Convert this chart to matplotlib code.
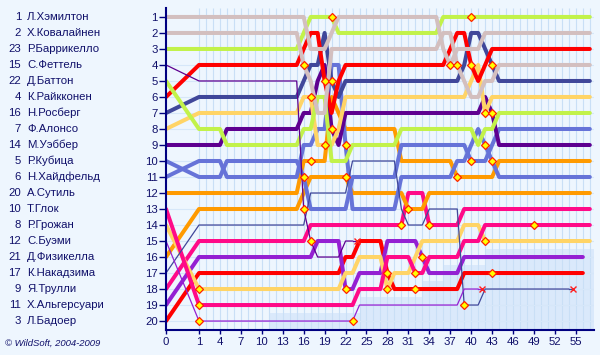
import numpy as np
import matplotlib
matplotlib.use("Agg")
import matplotlib.pyplot as plt
from matplotlib import transforms

plt.rcParams['font.family'] = ['Liberation Sans', 'DejaVu Sans']

nan = np.nan

# ---- data -------------------------------------------------------------
car_numbers = [1, 2, 23, 15, 22, 4, 16, 7, 14, 5, 6, 20, 10, 8, 12, 21, 17, 9, 11, 3]
driver_codes = ["HAM", "KOV", "BAR", "VET", "BUT", "RAI", "ROS", "ALO", "WEB", "KUB",
                "HEI", "SUT", "GLO", "GRO", "BUE", "FIS", "NAK", "TRU", "ALG", "BAD"]
driver_names = ["Л.Хэмилтон", "Х.Ковалайнен", "Р.Баррикелло", "С.Феттель", "Д.Баттон",
                "К.Райкконен", "Н.Росберг", "Ф.Алонсо", "М.Уэббер", "Р.Кубица",
                "Н.Хайдфельд", "А.Сутиль", "Т.Глок", "Р.Грожан", "С.Буэми",
                "Д.Физикелла", "К.Накадзима", "Я.Трулли", "Х.Альгерсуари", "Л.Бадоер"]

laps = list(range(0, 58))

# positions at the end of laps 0..57 (0 = grid)
pos_HAM = [1,1,1,1,1,1,1,1,1,1, 1,1,1,1,1,1,1,3,3,3, 2,1,1,1,1,1,1,1,1,1,
           1,1,1,1,1,1,3,4,3,3, 3,3,2,2,2,2,2,2,2,2, 2,2,2,2,2,2,2,2]
pos_KOV = [2,2,2,2,2,2,2,2,2,2, 2,2,2,2,2,2,4,5,7,7, 3,3,3,3,3,3,3,3,3,3,
           3,3,3,3,3,3,2,2,4,5, 6,6,5,5,4,4,4,4,4,4, 4,4,4,4,4,4,4,4]
pos_BAR = [3,3,3,3,3,3,3,3,3,3, 3,3,3,3,3,3,2,1,1,1, 1,2,2,2,2,2,2,2,2,2,
           2,2,2,2,2,2,1,1,1,1, 1,1,1,1,1,1,1,1,1,1, 1,1,1,1,1,1,1,1]
pos_VET = [4,5,5,5,5,5,5,5,5,5, 5,5,5,5,5,5,13,15,16,16, 16,16,15,15,nan,nan,nan,nan,nan,nan,
           nan,nan,nan,nan,nan,nan,nan,nan,nan,nan, nan,nan,nan,nan,nan,nan,nan,nan,nan,nan,
           nan,nan,nan,nan,nan,nan,nan,nan]
pos_BUT = [5,8,8,8,8,9,9,9,9,9, 9,9,9,9,9,9,8,8,6,6, 10,10,10,9,9,9,9,9,9,9,
           8,8,8,8,8,8,8,8,8,8, 8,9,8,8,7,7,7,7,7,7, 7,7,7,7,7,7,7,7]
pos_RAI = [6,4,4,4,4,4,4,4,4,4, 4,4,4,4,4,4,3,2,2,5, 7,5,4,4,4,4,4,4,4,4,
           4,4,4,4,4,4,4,3,2,2, 4,5,4,3,3,3,3,3,3,3, 3,3,3,3,3,3,3,3]
pos_ROS = [7,6,6,6,6,6,6,6,6,6, 6,6,6,6,6,6,5,4,4,2, 5,6,5,5,5,5,5,5,5,5,
           5,5,5,5,5,5,5,5,5,4, 2,2,3,4,5,5,5,5,5,5, 5,5,5,5,5,5,5,5]
pos_ALO = [8,7,7,7,7,7,7,7,7,7, 7,7,7,7,7,7,6,6,9,9, 9,8,6,6,6,6,6,6,6,6,
           6,6,6,6,6,6,6,6,6,6, 5,4,7,6,6,6,6,6,6,6, 6,6,6,6,6,6,6,6]
pos_WEB = [9,9,9,9,9,8,8,8,8,8, 8,8,8,8,8,8,7,7,5,4, 8,9,7,7,7,7,7,7,7,7,
           7,7,7,7,7,7,7,7,7,7, 7,7,6,7,9,9,9,9,9,9, 9,9,9,9,9,9,9,9]
pos_KUB = [10,11,11,11,11,10,10,10,10,10, 10,10,10,10,10,10,11,13,13,13, 13,13,13,11,11,11,11,11,11,11,
           9,9,9,9,9,9,9,9,9,9, 10,10,10,9,8,8,8,8,8,8, 8,8,8,8,8,8,8,8]
pos_HEI = [11,10,10,10,10,11,11,11,11,11, 11,11,11,11,11,11,9,9,8,8, 4,4,9,13,13,13,13,13,13,13,
           11,11,11,11,11,11,11,11,10,10, 9,8,9,10,11,11,11,11,11,11, 11,11,11,11,11,11,11,11]
pos_SUT = [12,12,12,12,12,12,12,12,12,12, 12,12,12,12,12,12,10,10,10,10, 6,7,8,8,8,8,8,8,8,8,
           10,10,10,10,10,10,10,10,11,11, 11,11,11,11,10,10,10,10,10,10, 10,10,10,10,10,10,10,10]
pos_GLO = [13,19,19,19,19,19,19,19,19,19, 19,19,19,19,19,19,19,19,19,19, 19,19,19,19,18,18,18,18,16,16,
           16,16,17,17,16,16,16,16,16,15, 15,15,14,14,14,14,14,14,14,14, 14,14,14,14,14,14,14,14]
pos_GRO = [14,18,18,18,18,18,18,18,18,18, 18,18,18,18,18,18,18,18,18,18, 18,18,17,17,16,16,16,16,18,17,
           17,17,16,15,15,15,15,15,15,14, 14,14,15,15,15,15,15,15,15,15, 15,15,15,15,15,15,15,15]
pos_BUE = [15,20,20,20,20,20,20,20,20,20, 20,20,20,20,20,20,20,20,20,20, 20,20,20,20,19,19,19,19,19,19,
           19,19,19,19,19,19,19,19,19,18, 18,18,nan,nan,nan,nan,nan,nan,nan,nan,
           nan,nan,nan,nan,nan,nan,nan,nan]
pos_FIS = [16,13,13,13,13,13,13,13,13,13, 13,13,13,13,13,13,12,11,11,11, 11,11,11,12,12,12,12,12,12,12,
           12,13,13,13,12,12,12,12,12,12, 12,12,12,12,12,12,12,12,12,12, 12,12,12,12,12,12,12,12]
pos_NAK = [17,14,14,14,14,14,14,14,14,14, 14,14,14,14,14,14,14,12,12,12, 12,12,12,10,10,10,10,10,10,10,
           13,14,14,14,13,13,13,13,13,19, 19,19,18,18,18,18,18,18,18,18, 18,18,18,18,18,nan,nan,nan]
pos_TRU = [18,15,15,15,15,15,15,15,15,15, 15,15,15,15,15,15,15,14,14,14, 14,14,14,14,14,14,14,14,14,14,
           14,12,12,12,14,14,14,14,14,13, 13,13,13,13,13,13,13,13,13,13, 13,13,13,13,13,13,13,13]
pos_ALG = [19,16,16,16,16,16,16,16,16,16, 16,16,16,16,16,16,16,16,15,15, 15,15,18,18,17,17,17,17,15,15,
           15,15,15,16,17,17,17,17,17,16, 16,16,16,16,16,16,16,16,16,16, 16,16,16,16,16,16,16,nan]
pos_BAD = [20,17,17,17,17,17,17,17,17,17, 17,17,17,17,17,17,17,17,17,17, 17,17,16,16,15,15,15,15,17,18,
           18,18,18,18,18,18,18,18,18,17, 17,17,17,17,17,17,17,17,17,17, 17,17,17,17,17,17,17,nan]

# pit stops (lap, position)
pit_lap = [1, 1, 1, 16, 16, 16, 17, 17, 17, 19, 19, 20, 20, 20, 22, 22, 22, 23,
           28, 28, 30, 31, 32, 32, 33, 34, 37, 38, 38, 39, 40, 40, 40,
           42, 42, 42, 43, 43, 43, 43, 49]
pit_pos = [18, 19, 20, 4, 11, 13, 6, 10, 15, 5, 9, 1, 5, 8, 9, 11, 18, 20,
           17, 18, 14, 13, 17, 18, 16, 14, 4, 4, 11, 19, 1, 4, 10,
           7, 9, 15, 4, 7, 10, 17, 14]

# retired drivers
retired = ["VET", "BUE", "NAK"]

# lapped-cars band: from lap -> upper position edge
shade_from = [11, 24, 33, 36, 42]
shade_top = [19.5, 18.5, 17.5, 16.5, 15.5]

lap_ticks = [0, 1, 4, 7, 10, 13, 16, 19, 22, 25, 28, 31, 34, 37, 40, 43, 46, 49, 52, 55]

# ---- styles -------------------------------------------------------------
team_color = {
    "HAM": "#D3BFBF", "KOV": "#D3BFBF",
    "BAR": "#C2F24A", "BUT": "#C2F24A",
    "VET": "#5E0090", "WEB": "#5E0090",
    "RAI": "#FF0000", "BAD": "#FF0000",
    "ROS": "#40479A", "NAK": "#40479A",
    "ALO": "#FFD466", "GRO": "#FFD466",
    "KUB": "#6673D8", "HEI": "#6673D8",
    "SUT": "#FF9A00", "FIS": "#FF9A00",
    "GLO": "#FF0A88", "TRU": "#FF0A88",
    "BUE": "#9420D2", "ALG": "#9420D2",
}
thin = {"VET", "NAK", "BUE"}

BG = "#EEF6FE"
NAVY = "#10106A"
GRID_V = "#C9DFF6"
GRID_H = "#D6E7F9"
SHADE = "#DAE9FB"
GRID_X = -3.73
XMAX = 57.6
YTOP, YBOT = 0.44, 20.56

positions = {c: globals()["pos_" + c] for c in driver_codes}


def xpos(v):
    v = np.asarray(v, dtype=float)
    return np.where(v == 0, GRID_X, v)


fig = plt.figure(figsize=(6.0, 3.55), dpi=100)
fig.patch.set_facecolor(BG)
ax = fig.add_axes([166 / 600, 1 - 330 / 355, (594 - 166) / 600, (330 - 8) / 355])
ax.set_facecolor(BG)
ax.set_xlim(GRID_X, XMAX)
ax.set_ylim(YBOT, YTOP)

# lapped band
sx = shade_from + [XMAX]
st = shade_top + [shade_top[-1]]
ax.fill_between(sx, st, YBOT, step="post", color=SHADE, lw=0, zorder=0.5)

# grid
ax.vlines(laps[1:], YTOP, YBOT, color=GRID_V, lw=0.8, zorder=0.6)
ax.hlines(range(1, 21), GRID_X, XMAX, color=GRID_H, lw=0.8, zorder=0.6)

# driver lines
for code in reversed(driver_codes):
    p = np.array(positions[code], dtype=float)
    lw = 0.9 if code in thin else 2.9
    ax.plot(xpos(laps), p, color=team_color[code], lw=lw, solid_joinstyle="round",
            solid_capstyle="round", zorder=2 if code in thin else 1.5)
    if code in retired:
        last = np.where(~np.isnan(p))[0][-1]
        ax.plot([last, last + 0.6], [p[last], p[last]], color=team_color[code], lw=lw, zorder=2)
        ax.plot([last + 0.6], [p[last]], marker="x", color="#FF2020", ms=4, mew=1.0, zorder=4)

# pit stops
ax.plot(pit_lap, pit_pos, ls="none", marker="D", ms=4.3, mfc="#FFFF00", mec="#FF2000",
        mew=0.9, zorder=5)

# axes styling
for s in ["top", "right"]:
    ax.spines[s].set_visible(False)
for s in ["left", "bottom"]:
    ax.spines[s].set_color("#000080")
    ax.spines[s].set_linewidth(1.5)
ax.set_yticks(range(1, 21))
ax.set_yticklabels([str(i) for i in range(1, 21)])
ax.set_xticks(xpos(lap_ticks))
ax.set_xticklabels([str(t) for t in lap_ticks])
ax.tick_params(axis="y", direction="out", length=5, width=1, color="#000080",
               labelcolor=NAVY, labelsize=8.2, pad=1)
ax.tick_params(axis="x", direction="out", length=3, width=1, color="#000080",
               labelcolor=NAVY, labelsize=8.2, pad=2)

# driver list
tr = transforms.blended_transform_factory(fig.transFigure, ax.transData)
for i, (num, name) in enumerate(zip(car_numbers, driver_names)):
    ax.text(21 / 600, i + 1, str(num), transform=tr, ha="right", va="center",
            fontsize=8.2, color=NAVY, clip_on=False)
    ax.text(27 / 600, i + 1, name, transform=tr, ha="left", va="center",
            fontsize=8.2, color=NAVY, clip_on=False)

fig.text(5 / 600, 1 - 343 / 355, "© WildSoft, 2004-2009", fontsize=6.8, style="italic",
         color=NAVY, va="center", ha="left")

fig.savefig("out.png", dpi=100, facecolor=BG)
